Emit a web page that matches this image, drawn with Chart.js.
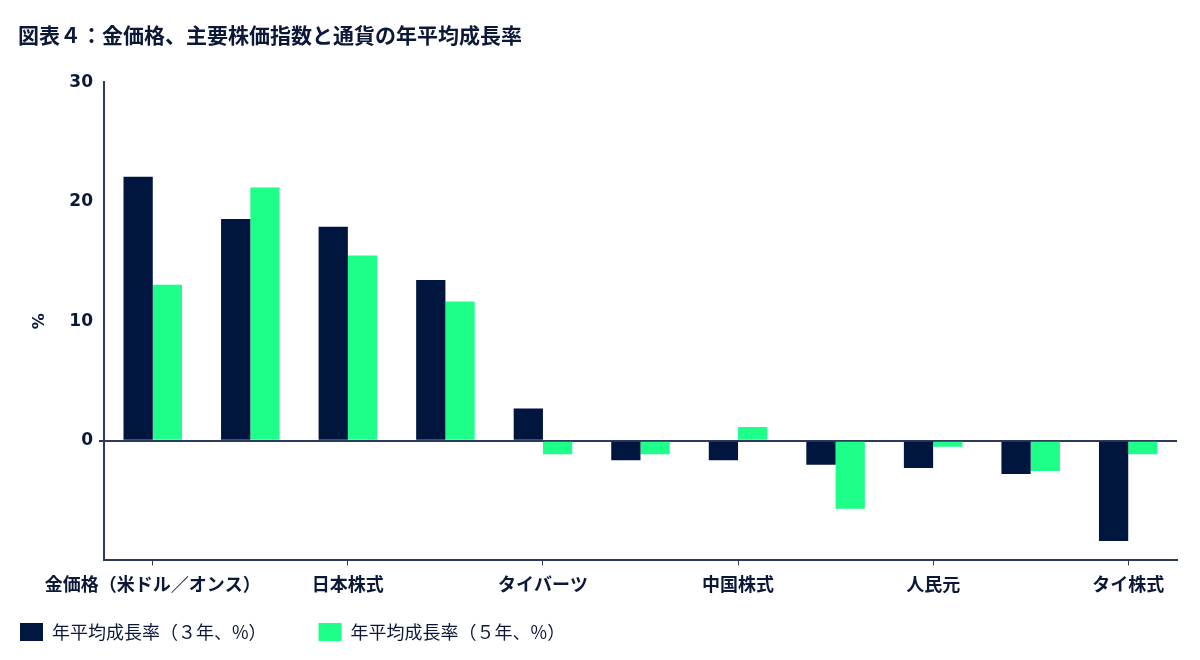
<!DOCTYPE html>
<html>
<head>
<meta charset="utf-8">
<script src="https://cdn.jsdelivr.net/npm/chart.js@4/dist/chart.umd.min.js"></script>
<style>
html,body{margin:0;padding:0;background:#fff;}
#wrap{width:1200px;height:660px;}
</style>
</head>
<body>
<div id="wrap"><canvas id="c" width="1200" height="660"></canvas></div>
<script>
const categories = ['金価格（米ドル／オンス）','米国株式','日本株式','欧州株式','タイバーツ','米ドル','中国株式','香港株式','人民元','日本円','タイ株式'];
const growth3y = [22.1, 18.55, 17.9, 13.45, 2.7, -1.63, -1.63, -2.0, -2.27, -2.78, -8.38];
const growth5y = [13.05, 21.2, 15.5, 11.65, -1.13, -1.13, 1.15, -5.67, -0.49, -2.52, -1.13];
const yTicks = [0, 10, 20, 30];
const seriesNames = ['年平均成長率（３年、%）','年平均成長率（５年、%）'];

const navy = '#00163f';
const green = '#1eff8a';
const axisColor = '#2e3a5c';
const textColor = '#0b1838';
const jp = "'Noto Sans CJK JP','Noto Sans',sans-serif";

const LEGEND_GAP = 52;
const legendPlace = {
  id: 'legendPlace',
  beforeLayout(chart) {
    const lg = chart.legend;
    if (lg && !lg._wrappedFit) {
      const fit = lg.fit.bind(lg);
      lg.fit = function() { fit(); this.height = 40; };
      lg._wrappedFit = true;
    }
  },
  afterLayout(chart) {
    const lg = chart.legend;
    if (!lg) return;
    lg.left = 20 - LEGEND_GAP;
    lg.top = 623 - LEGEND_GAP;
    lg.bottom = chart.height;
  }
};

new Chart(document.getElementById('c'), {
  type: 'bar',
  data: {
    labels: categories,
    datasets: [
      {label: seriesNames[0], data: growth3y, backgroundColor: navy, borderWidth: 0},
      {label: seriesNames[1], data: growth5y, backgroundColor: green, borderWidth: 0}
    ]
  },
  plugins: [legendPlace],
  options: {
    responsive: false,
    animation: false,
    layout: {padding: {left: 18, right: 23, top: 0, bottom: 17}},
    datasets: {bar: {categoryPercentage: 0.6, barPercentage: 1.0}},
    plugins: {
      title: {
        display: true,
        text: '図表４：金価格、主要株価指数と通貨の年平均成長率',
        align: 'start',
        color: textColor,
        font: {family: jp, size: 21, weight: 'bold'},
        padding: {top: 22, bottom: 35}
      },
      legend: {
        position: 'bottom',
        align: 'start',
        labels: {
          boxWidth: 23,
          boxHeight: 18,
          padding: LEGEND_GAP,
          color: textColor,
          font: {family: jp, size: 18, weight: 'normal'}
        }
      },
      tooltip: {enabled: false}
    },
    scales: {
      x: {
        grid: {
          display: true,
          offset: false,
          drawOnChartArea: false,
          tickLength: 5,
          tickColor: (ctx) => (ctx.index % 2 === 0 ? axisColor : 'rgba(0,0,0,0)')
        },
        border: {display: true, color: axisColor, width: 2},
        ticks: {
          autoSkip: false,
          maxRotation: 0,
          minRotation: 0,
          padding: 8,
          color: textColor,
          font: {family: jp, size: 18, weight: 'bold'},
          callback: function(v, i) { return i % 2 === 0 ? this.getLabelForValue(v) : ''; }
        }
      },
      y: {
        min: -10,
        max: 30,
        afterBuildTicks: (s) => { s.ticks = [-10].concat(yTicks).map(v => ({value: v})); },
        afterFit: (s) => { s.width = 86; },
        grid: {
          display: true,
          drawOnChartArea: true,
          tickLength: 5,
          lineWidth: (ctx) => (ctx.tick && ctx.tick.value === 0 ? 2 : 0),
          color: (ctx) => (ctx.tick && ctx.tick.value === 0 ? axisColor : 'rgba(0,0,0,0)'),
          tickColor: (ctx) => (ctx.tick && ctx.tick.value >= 0 ? axisColor : 'rgba(0,0,0,0)')
        },
        border: {display: true, color: axisColor, width: 2},
        title: {
          display: true,
          text: '%',
          color: textColor,
          font: {family: "'DejaVu Sans',sans-serif", size: 16, weight: 'bold'},
          padding: {top: 12, bottom: 10}
        },
        ticks: {
          padding: 6,
          color: textColor,
          font: {family: "'DejaVu Sans',sans-serif", size: 17, weight: 'bold'},
          callback: (v) => (v < 0 ? '' : v)
        }
      }
    }
  }
});
</script>
</body>
</html>
